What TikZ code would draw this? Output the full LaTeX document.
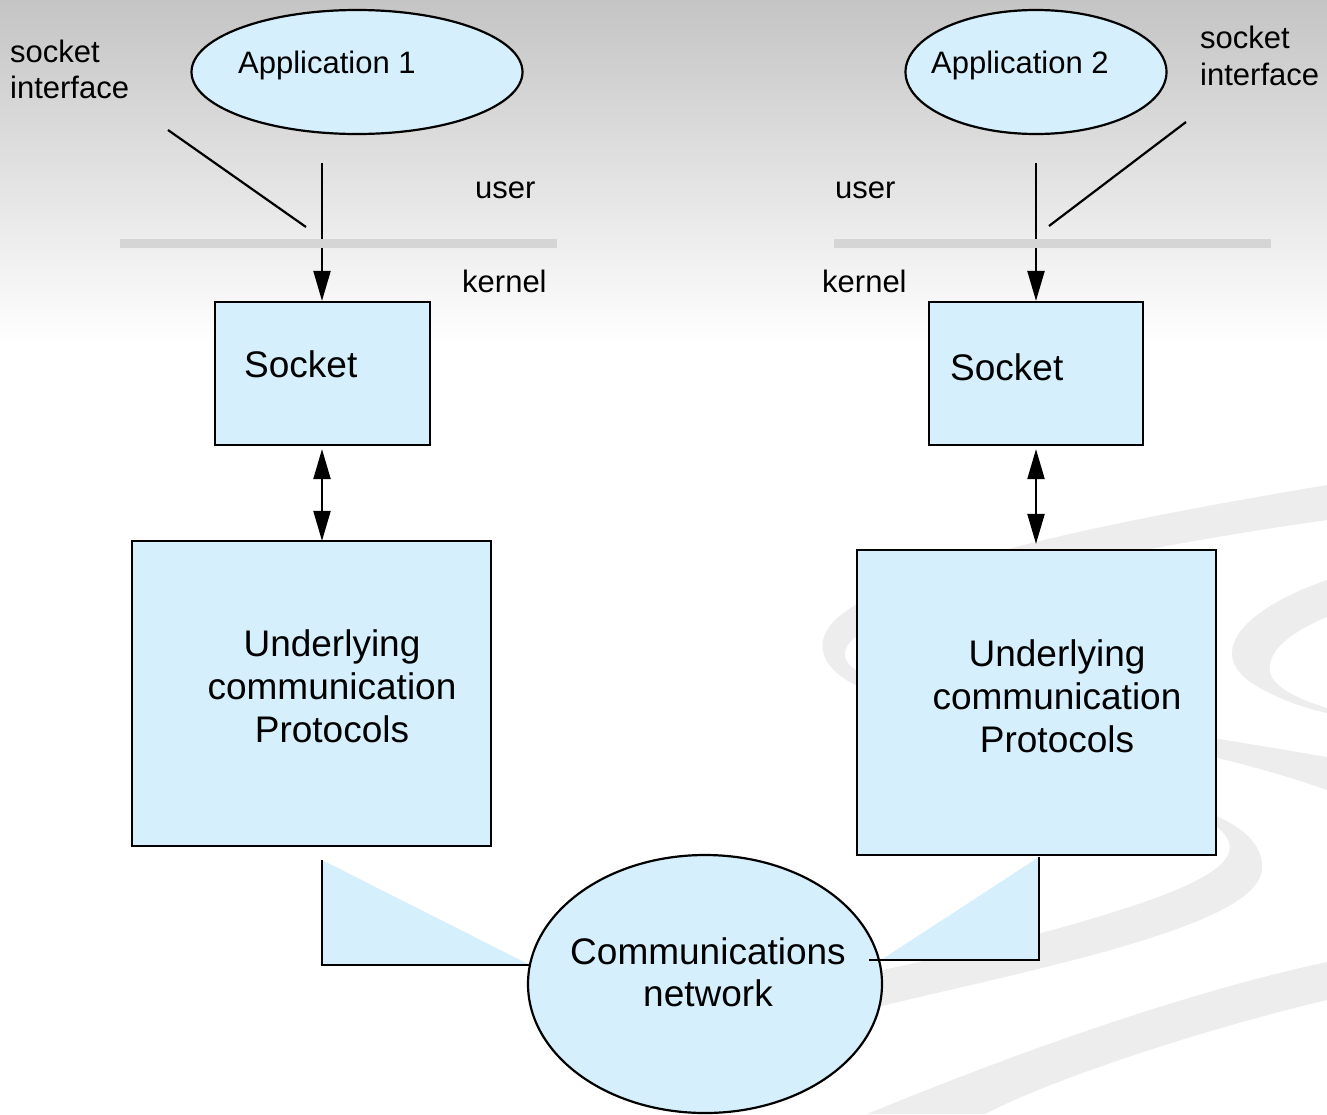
\documentclass[tikz,border=0pt]{standalone}
\usepackage{fontspec}
\setmainfont{Liberation Sans}
\usetikzlibrary{shapes.geometric,arrows.meta}
\definecolor{boxblue}{HTML}{D5EFFC}
\definecolor{swooshcol}{HTML}{EDEDED}
\definecolor{barcol}{HTML}{D5D5D5}
\begin{document}
\begin{tikzpicture}[x=1pt,y=-1pt,
  blk/.style={draw=black, line width=2.2pt, fill=boxblue, inner sep=0pt},
  ell/.style={blk, ellipse},
  rect/.style={blk, rectangle},
  small/.style={font=\fontsize{31}{36}\selectfont, inner sep=0pt},
  big/.style={font=\fontsize{37}{43}\selectfont, inner sep=0pt},
  conn/.style={line width=2.2pt},
  tip/.style={line width=2.2pt, -{Triangle[length=30pt,width=17pt]}},
  dtip/.style={line width=2.2pt, {Triangle[length=30pt,width=17pt]}-{Triangle[length=30pt,width=17pt]}},
  sw/.style={fill=swooshcol},
  bar/.style={draw=barcol, line width=9pt}]
% background
\useasboundingbox (0,0) rectangle (1327,1114);
\fill[white] (0,0) rectangle (1327,1114);
\shade[top color=black!23, bottom color=white] (0,0) rectangle (1327,345);
% swooshes
\fill[sw] (1327,485) .. controls (1150,515) and (900,560) .. (835,620)
  .. controls (805,650) and (830,685) .. (900,700)
  .. controls (1050,725) and (1200,745) .. (1327,790) -- (1327,757)
  .. controls (1200,735) and (1000,705) .. (880,680)
  .. controls (835,668) and (835,645) .. (870,628)
  .. controls (950,585) and (1150,545) .. (1327,520) -- cycle;
\fill[sw] (1327,580) .. controls (1240,610) and (1205,655) .. (1255,685)
  .. controls (1280,700) and (1305,708) .. (1327,713) -- (1327,708)
  .. controls (1300,700) and (1265,685) .. (1270,665)
  .. controls (1272,645) and (1300,628) .. (1327,617) -- cycle;
\fill[sw] (1180,805) .. controls (1230,815) and (1265,840) .. (1262,870)
  .. controls (1258,900) and (1200,925) .. (1100,953)
  .. controls (1000,980) and (900,1000) .. (860,1012) -- (860,975)
  .. controls (950,955) and (1050,935) .. (1150,900)
  .. controls (1220,875) and (1240,855) .. (1225,835)
  .. controls (1215,822) and (1200,815) .. (1180,812) -- cycle;
\fill[sw] (867,1114) .. controls (950,1080) and (1150,1000) .. (1327,962)
  -- (1327,1000) .. controls (1200,1030) and (1050,1080) .. (985,1114) -- cycle;
% applications
\node[ell, minimum width=331, minimum height=124] (app1) at (357,72) {};
\node[small, anchor=base west] (app1t) at (238,73) {Application 1};
\node[ell, minimum width=261, minimum height=124] (app2) at (1036,72) {};
\node[small, anchor=base west] (app2t) at (931,73) {Application 2};
% labels
\node[small, anchor=base west] (si1a) at (10,62) {socket};
\node[small, anchor=base west] (si1b) at (10,98) {interface};
\node[small, anchor=base west] (si2a) at (1200,48) {socket};
\node[small, anchor=base west] (si2b) at (1200,85) {interface};
\node[small, anchor=base west] (user1) at (475,198) {user};
\node[small, anchor=base west] (kern1) at (462,292) {kernel};
\node[small, anchor=base west] (user2) at (835,198) {user};
\node[small, anchor=base west] (kern2) at (822,292) {kernel};
% sockets
\node[rect, minimum width=215, minimum height=143] (sock1) at (322.5,373.5) {};
\node[big, anchor=base west] (sock1t) at (244,377) {Socket};
\node[rect, minimum width=214, minimum height=143] (sock2) at (1036,373.5) {};
\node[big, anchor=base west] (sock2t) at (950,380) {Socket};
% protocols
\node[rect, minimum width=359, minimum height=305] (prot1) at (311.5,693.5) {};
\node[big, anchor=base] (p1a) at (332,656) {Underlying};
\node[big, anchor=base] (p1b) at (332,699) {communication};
\node[big, anchor=base] (p1c) at (332,742) {Protocols};
\node[rect, minimum width=359, minimum height=305] (prot2) at (1036.5,702.5) {};
\node[big, anchor=base] (p2a) at (1057,666) {Underlying};
\node[big, anchor=base] (p2b) at (1057,709) {communication};
\node[big, anchor=base] (p2c) at (1057,752) {Protocols};
% network
\node[ell, minimum width=354, minimum height=258] (net) at (705,984) {};
\node[big, anchor=base] (n1) at (708,964) {Communications};
\node[big, anchor=base] (n2) at (708,1006) {network};
% top arrows and interface pointers
\coordinate (a1) at (322,163);
\coordinate (a2) at (1036,163);
\draw[tip] (a1) -- (a1 |- sock1.north);
\draw[tip] (a2) -- (a2 |- sock2.north);
\draw[bar] (120,243.5) -- (557,243.5);
\draw[bar] (834,243.5) -- (1271,243.5);
\coordinate (s1a) at (168,130); \coordinate (s1b) at (306,227);
\coordinate (s2a) at (1186,122); \coordinate (s2b) at (1049,226);
\draw[conn] (s1a) -- (s1b);
\draw[conn] (s2a) -- (s2b);
% double arrows
\draw[dtip] ([yshift=-3pt]a1 |- sock1.south) -- ([yshift=-1pt]a1 |- prot1.north);
\draw[dtip] ([yshift=-3pt]a2 |- sock2.south) -- ([yshift=5pt]a2 |- prot2.north);
% connectors to network
\coordinate (l1) at (322,860); \coordinate (l2) at (322,965); \coordinate (l3) at (530,965);
\fill[boxblue] (l1) -- (l2) -- (l3) -- cycle;
\draw[conn] (l1) -- (l2) -- (l3);
\coordinate (r1) at (1039,857); \coordinate (r2) at (1039,960); \coordinate (r3) at (881,960); \coordinate (r4) at (869,960);
\fill[boxblue] (r1) -- (r2) -- (r3) -- cycle;
\draw[conn] (r1) -- (r2) -- (r4);
\end{tikzpicture}
\end{document}
